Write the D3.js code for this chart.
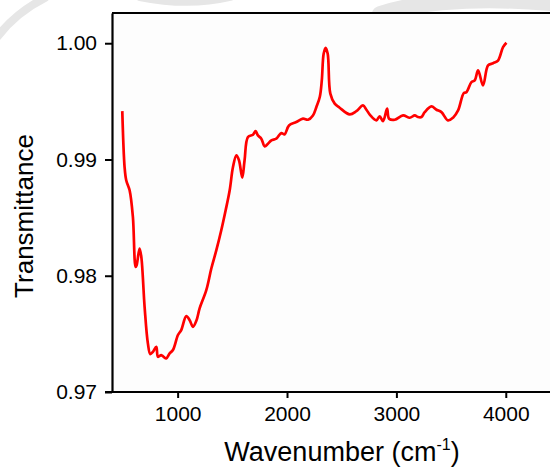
<!DOCTYPE html>
<meta charset="utf-8">
<script src="https://d3js.org/d3.v7.min.js"></script>
<style>
  body { margin: 0; background: #ffffff; }
  text { font-family: "Liberation Sans", Arial, sans-serif; }
</style>
<div id="my_dataviz"></div>
<script>

// wavenumbers (cm-1) and transmittance
var wavenumber = [494, 515, 530, 561, 591, 616, 625, 652, 668, 698, 728, 750, 774, 805, 820, 850, 872, 896, 927, 957,
  1003, 1033, 1079, 1110, 1140, 1171, 1201, 1262, 1308, 1354, 1399, 1439, 1476, 1506, 1537, 1561, 1591, 1612, 1643,
  1689, 1713, 1734, 1765, 1796, 1826, 1857, 1902, 1948, 1978, 2018, 2085, 2146, 2192, 2237, 2268, 2300, 2318, 2335,
  2353, 2372, 2396, 2436, 2481, 2573, 2634, 2695, 2726, 2762, 2817, 2847, 2878, 2915, 2933, 2985, 3061, 3122, 3168,
  3198, 3229, 3259, 3320, 3366, 3412, 3472, 3518, 3564, 3616, 3640, 3686, 3716, 3747, 3792, 3838, 3884, 3929, 3975, 4006];
var transmittance = [0.99416, 0.98935, 0.98821, 0.98735, 0.98506, 0.98076, 0.98090, 0.98234, 0.98162, 0.97733, 0.97418,
  0.97326, 0.97346, 0.97389, 0.97303, 0.97318, 0.97303, 0.97289, 0.97332, 0.97361,
  0.97490, 0.97533, 0.97653, 0.97618, 0.97561, 0.97612, 0.97719, 0.97876, 0.98062, 0.98220, 0.98391, 0.98563, 0.98735,
  0.98935, 0.99036, 0.98993, 0.98844, 0.98993, 0.99193,
  0.99213, 0.99244, 0.99207, 0.99179, 0.99113, 0.99136, 0.99164, 0.99179, 0.99227, 0.99216, 0.99293, 0.99322, 0.99351,
  0.99342, 0.99379, 0.99450, 0.99540, 0.99680, 0.99909,
  0.99960, 0.99909, 0.99566, 0.99480, 0.99445, 0.99388, 0.99416, 0.99465, 0.99428, 0.99379, 0.99336, 0.99371, 0.99330,
  0.99437, 0.99351, 0.99342, 0.99379, 0.99359, 0.99379,
  0.99365, 0.99365, 0.99407, 0.99456, 0.99428, 0.99407, 0.99336, 0.99360, 0.99422, 0.99571, 0.99579, 0.99665, 0.99680,
  0.99766, 0.99637, 0.99809, 0.99828, 0.99851, 0.99966, 1.00004];

var xTicks = [1000, 2000, 3000, 4000];
var yTicks = [0.97, 0.98, 0.99, 1.00];

var margin = {top: 13, right: -5, bottom: 75, left: 112},
  width = 550 - margin.left - margin.right,
  height = 467 - margin.top - margin.bottom;

var svg = d3.select("#my_dataviz")
  .append("svg")
    .attr("width", 550)
    .attr("height", 467)
    .style("display", "block");

// faint grey swoosh behind the figure
var swoosh = svg.append("g")
  .attr("fill", "none")
  .attr("stroke", "#e6e6e6")
  .attr("stroke-linecap", "round");
swoosh.append("path")
  .attr("stroke-width", 8)
  .attr("d", "M-5,40 C8,22 25,8 45,-2");
swoosh.append("path")
  .attr("stroke-width", 10)
  .attr("d", "M140,-4 C170,2 200,3 230,-4");
swoosh.append("path")
  .attr("stroke-width", 16)
  .attr("d", "M380,14 C430,-2 500,-2 560,4");

var g = svg.append("g")
  .attr("transform", "translate(" + margin.left + "," + margin.top + ")");

g.append("rect")
  .attr("width", width)
  .attr("height", height)
  .attr("fill", "#fdfdfd");

var x = d3.scaleLinear()
  .domain([400, 4450])
  .range([0, width]);

var y = d3.scaleLinear()
  .domain([0.97, 1.0026])
  .range([height, 0]);

// bottom axis
var xAxis = g.append("g")
  .attr("transform", "translate(0," + height + ")")
  .call(d3.axisBottom(x).tickValues(xTicks).tickFormat(d3.format("d")).tickSize(6).tickSizeOuter(0).tickPadding(8));

// left axis
var yAxis = g.append("g")
  .call(d3.axisLeft(y).tickValues(yTicks).tickFormat(d3.format(".2f")).tickSize(7).tickSizeOuter(0).tickPadding(8));

[xAxis, yAxis].forEach(function(a) {
  a.select(".domain").attr("stroke-width", 2.2);
  a.selectAll(".tick line").attr("stroke-width", 2);
  a.selectAll(".tick text")
    .attr("font-size", 21)
    .attr("font-family", "Liberation Sans, Arial, sans-serif")
    .attr("fill", "#000");
});
xAxis.select(".domain").attr("d", "M-7,0H" + width);

// top border
g.append("line")
  .attr("x1", 0).attr("x2", width)
  .attr("y1", 0).attr("y2", 0)
  .attr("stroke", "#000")
  .attr("stroke-width", 2.2);

// spectrum
var line = d3.line()
  .x(function(d, i) { return x(wavenumber[i]); })
  .y(function(d) { return y(d); })
  .curve(d3.curveCatmullRom.alpha(0.5));

g.append("path")
  .datum(transmittance)
  .attr("fill", "none")
  .attr("stroke", "#ff0000")
  .attr("stroke-width", 2.7)
  .attr("stroke-linejoin", "round")
  .attr("d", line);

// axis titles
svg.append("text")
  .attr("x", 342)
  .attr("y", 461)
  .attr("text-anchor", "middle")
  .attr("font-size", 27)
  .attr("fill", "#000")
  .html('Wavenumber (cm<tspan dy="-11" font-size="16">-1</tspan><tspan dy="11">)</tspan>');

svg.append("text")
  .attr("transform", "translate(33,216) rotate(-90)")
  .attr("text-anchor", "middle")
  .attr("font-size", 26)
  .attr("fill", "#000")
  .text("Transmittance");

</script>
